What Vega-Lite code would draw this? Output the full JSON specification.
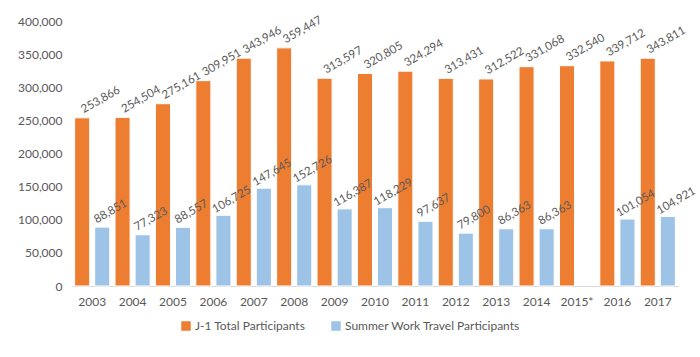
{
  "$schema": "https://vega.github.io/schema/vega-lite/v6.json",
  "autosize": {"type": "none"},
  "width": 606,
  "height": 265,
  "padding": {"left": 72, "top": 21, "right": 22, "bottom": 71},
  "background": "white",
  "config": {
    "view": {"stroke": null},
    "font": "Lato",
    "axis": {"labelColor": "#595959", "labelFont": "Lato", "labelFontSize": 12, "grid": false, "ticks": false, "title": null},
    "legend": {"labelColor": "#595959", "labelFont": "Lato", "labelFontSize": 12}
  },
  "data": {
    "values": [
      {"year": "2003", "series": "J-1 Total Participants", "value": 253866},
      {"year": "2004", "series": "J-1 Total Participants", "value": 254504},
      {"year": "2005", "series": "J-1 Total Participants", "value": 275161},
      {"year": "2006", "series": "J-1 Total Participants", "value": 309951},
      {"year": "2007", "series": "J-1 Total Participants", "value": 343946},
      {"year": "2008", "series": "J-1 Total Participants", "value": 359447},
      {"year": "2009", "series": "J-1 Total Participants", "value": 313597},
      {"year": "2010", "series": "J-1 Total Participants", "value": 320805},
      {"year": "2011", "series": "J-1 Total Participants", "value": 324294},
      {"year": "2012", "series": "J-1 Total Participants", "value": 313431},
      {"year": "2013", "series": "J-1 Total Participants", "value": 312522},
      {"year": "2014", "series": "J-1 Total Participants", "value": 331068},
      {"year": "2015*", "series": "J-1 Total Participants", "value": 332540},
      {"year": "2016", "series": "J-1 Total Participants", "value": 339712},
      {"year": "2017", "series": "J-1 Total Participants", "value": 343811},
      {"year": "2003", "series": "Summer Work Travel Participants", "value": 88851},
      {"year": "2004", "series": "Summer Work Travel Participants", "value": 77323},
      {"year": "2005", "series": "Summer Work Travel Participants", "value": 88557},
      {"year": "2006", "series": "Summer Work Travel Participants", "value": 106725},
      {"year": "2007", "series": "Summer Work Travel Participants", "value": 147645},
      {"year": "2008", "series": "Summer Work Travel Participants", "value": 152726},
      {"year": "2009", "series": "Summer Work Travel Participants", "value": 116387},
      {"year": "2010", "series": "Summer Work Travel Participants", "value": 118229},
      {"year": "2011", "series": "Summer Work Travel Participants", "value": 97637},
      {"year": "2012", "series": "Summer Work Travel Participants", "value": 79800},
      {"year": "2013", "series": "Summer Work Travel Participants", "value": 86363},
      {"year": "2014", "series": "Summer Work Travel Participants", "value": 86363},
      {"year": "2016", "series": "Summer Work Travel Participants", "value": 101054},
      {"year": "2017", "series": "Summer Work Travel Participants", "value": 104921}
    ]
  },
  "encoding": {
    "x": {
      "field": "year", "type": "nominal", "sort": null,
      "scale": {"paddingInner": 0.13, "paddingOuter": 0.065},
      "axis": {"labelAngle": 0, "domainColor": "#D9D9D9", "labelPadding": 10}
    },
    "xOffset": {"field": "series", "type": "nominal", "scale": {"paddingInner": 0.25, "paddingOuter": 0}},
    "y": {
      "field": "value", "type": "quantitative",
      "scale": {"domain": [0, 400000]},
      "axis": {"values": [0, 50000, 100000, 150000, 200000, 250000, 300000, 350000, 400000], "labelExpr": "format(datum.value, ',')", "domain": false, "labelPadding": 10}
    }
  },
  "layer": [
    {
      "mark": {"type": "bar", "stroke": "white", "strokeWidth": 1},
      "encoding": {
        "color": {
          "field": "series", "type": "nominal",
          "scale": {"domain": ["J-1 Total Participants", "Summer Work Travel Participants"], "range": ["#ED7D31", "#9DC3E6"]},
          "legend": {"title": null, "orient": "none", "direction": "horizontal", "legendX": 108, "legendY": 299, "symbolType": "square", "symbolSize": 90, "symbolStrokeWidth": 0, "columnPadding": 24, "labelOffset": 3, "labelLimit": 300}
        }
      }
    },
    {
      "transform": [{"filter": "datum.series == 'J-1 Total Participants'"}],
      "mark": {"type": "text", "angle": 330, "align": "center", "baseline": "middle", "dx": 25, "dy": -6, "color": "#595959", "fontSize": 11.5},
      "encoding": {"text": {"field": "value", "type": "quantitative", "format": ","}}
    },
    {
      "transform": [{"filter": "datum.series == 'Summer Work Travel Participants'"}],
      "mark": {"type": "text", "angle": 330, "align": "center", "baseline": "middle", "dx": 15, "dy": -9, "color": "#595959", "fontSize": 11.5},
      "encoding": {"text": {"field": "value", "type": "quantitative", "format": ","}}
    }
  ]
}
